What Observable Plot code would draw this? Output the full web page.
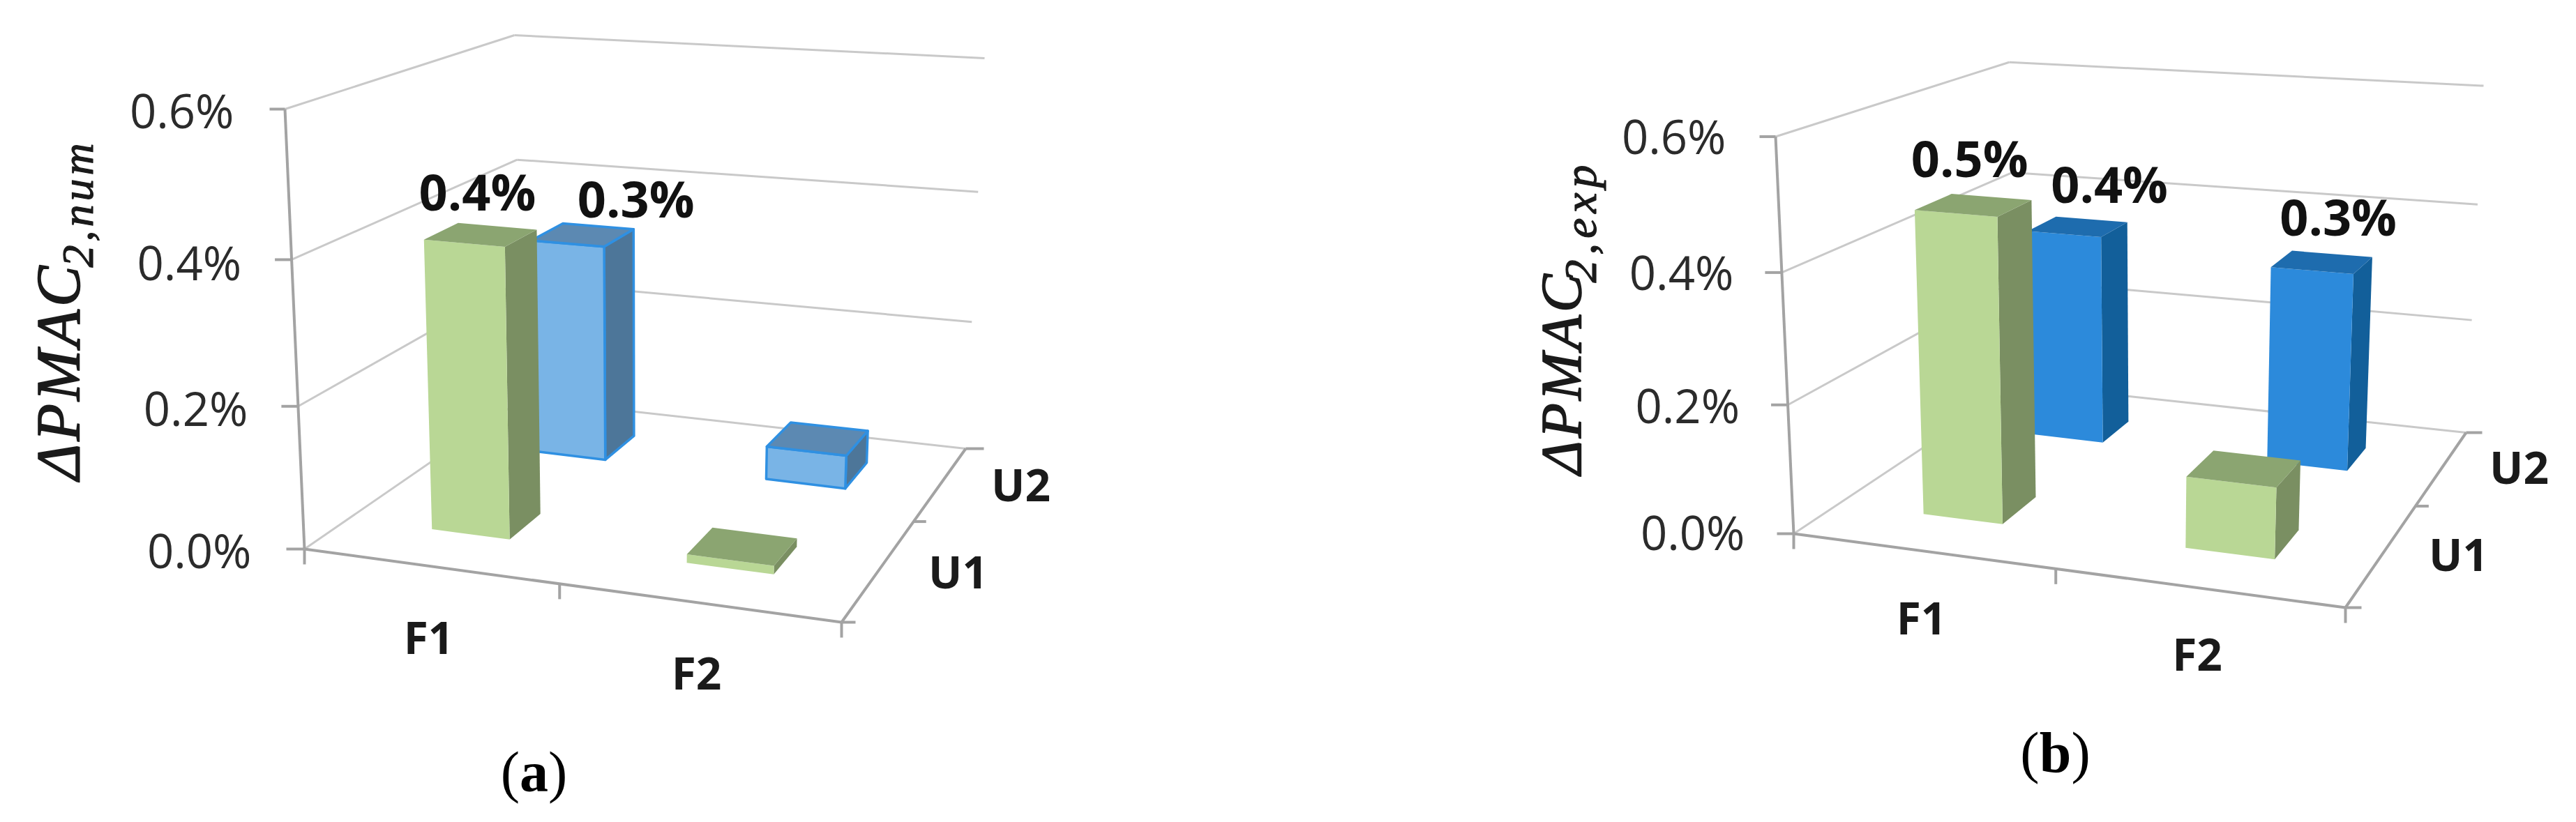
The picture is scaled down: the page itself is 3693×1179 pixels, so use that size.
<!DOCTYPE html>
<html>
<head>
<meta charset="utf-8">
<style>
  html, body { margin: 0; padding: 0; background: #fff; }
  svg { display: block; }
  .axmain { letter-spacing: 4px; }
  .axsub { letter-spacing: 5px; }
  .axsub2 { letter-spacing: 7px; }
</style>
<script src="https://cdn.jsdelivr.net/npm/d3@7"></script>
<script src="https://cdn.jsdelivr.net/npm/@observablehq/plot@0.6"></script>
</head>
<body>
<div id="chart"></div>
<script>
// ---- data ----
const factors = ["F1", "F2"];
const modes = ["U1", "U2"];
const yTicks = [0, 0.2, 0.4, 0.6];
const tickLabels = ["0.0%", "0.2%", "0.4%", "0.6%"];
// value (%) for [F1, F2]
const numU1 = [0.41, 0.012];
const numU2 = [0.33, 0.05];
const expU1 = [0.476, 0.11];
const expU2 = [0.357, 0.33];
const numLabels = ["0.4%", "0.3%"];
const expLabels = ["0.5%", "0.4%", "0.3%"];

// ---- colours ----
const green = {front: "#b9d795", top: "#8ba571", side: "#7a8f62", stroke: "none"};
const paleBlue = {front: "#79b4e6", top: "#5c89b2", side: "#4d7699", stroke: "#2f90e2"};
const deepBlue = {front: "#2c8adb", top: "#1e6cae", side: "#125f9a", stroke: "none"};

// ---- camera of each panel: floor and top corners (front-left, front-right, back-right, back-left) ----
const panels = [
  {
    floor: [[436, 787], [1206, 892], [1384, 643], [748, 572]],
    top: [[408, 156], [1227, 215], [1411, 83], [737, 50]],
    uRange: [[0.16, 0.31], [0.652, 0.82]],
    vRange: [[0.205, 0.368], [0.712, 0.864]],
    u1: numU1, u2: numU2, color1: green, color2: paleBlue,
    labels: [[0, 0, numLabels[0], -5, -58], [0, 1, numLabels[1], 76, -48]],
    tickDx: [-76, -72, -72, -73], tickDy: [6, 7, 8, 6],
    catText: [[614, 917], [998, 968]], serText: [[1373, 823], [1463, 698]],
    tag: "a", tagPos: [765, 1108], tagHalf: 20.5,
    sub: "2,num", title: [[112, 688], [132, 383]],
    mainSize: 88, subSize: 64, subClass: "axsub",
    tickLen: {left: [26, 24, 24, 22], down: 22, right: [20, 18, 26]}
  },
  {
    floor: [[2571, 765], [3362, 871], [3535, 620], [2893, 551]],
    top: [[2545, 195.5], [3383, 258], [3560, 122.6], [2880, 88.7]],
    uRange: [[0.158, 0.307], [0.652, 0.82]],
    vRange: [[0.205, 0.377], [0.725, 0.858]],
    u1: expU1, u2: expU2, color1: green, color2: deepBlue,
    labels: [[0, 0, expLabels[0], -6, -63], [0, 1, expLabels[1], 45, -57], [1, 1, expLabels[2], 23, -61]],
    tickDx: [-70, -69, -69, -71], tickDy: [2, 5, 4, 4],
    catText: [[2754, 889], [3149.5, 941]], serText: [[3524, 798.5], [3611, 673]],
    tag: "b", tagPos: [2946, 1080], tagHalf: 23,
    sub: "2,exp", title: [[2265, 680], [2287, 405]],
    mainSize: 82, subSize: 66, subClass: "axsub2",
    tickLen: {left: [24, 24, 24, 23], down: 22, right: [23, 19, 23]}
  }
];

const yMax = 0.6;
const uTick = 0.475;
const vTick = 0.58;
const curve = -0.04;

function bilinear(q, u, v) {
  const [a, b, c, d] = q;
  const f = (i) => a[i] * (1 - u) * (1 - v) + b[i] * u * (1 - v) + c[i] * u * v + d[i] * (1 - u) * v;
  return [f(0), f(1)];
}
function project(p, u, v, value) {
  const t = value / yMax;
  const s = t + curve * t * (1 - t);
  const f = bilinear(p.floor, u, v), g = bilinear(p.top, u, v);
  return {x: f[0] + (g[0] - f[0]) * s, y: f[1] + (g[1] - f[1]) * s};
}

const gridC = "#c9c9c9", axisC = "#a3a3a3";
const marks = [];
const seg = (a, b, stroke, w) => marks.push(Plot.link([{a, b}], {
  x1: (d) => d.a.x, y1: (d) => d.a.y, x2: (d) => d.b.x, y2: (d) => d.b.y, stroke, strokeWidth: w
}));
const txt = (t, x, y, o) => marks.push(Plot.text([t], {x: () => x, y: () => y, text: (d) => d, lineAnchor: "middle", ...o}));

function face(pts, fill, stroke) {
  marks.push(Plot.line(pts, {
    x: "x", y: "y", fill, stroke, strokeWidth: stroke === "none" ? 0 : 3.5,
    curve: "linear-closed", strokeLinejoin: "round"
  }));
}

function bar(p, fi, si, value, col) {
  const [u0, u1] = p.uRange[fi], [v0, v1] = p.vRange[si];
  const P = (u, v, h) => project(p, u, v, h);
  face([P(u1, v0, 0), P(u1, v1, 0), P(u1, v1, value), P(u1, v0, value)], col.side, col.stroke);
  face([P(u0, v0, 0), P(u1, v0, 0), P(u1, v0, value), P(u0, v0, value)], col.front, col.stroke);
  face([P(u0, v0, value), P(u1, v0, value), P(u1, v1, value), P(u0, v1, value)], col.top, col.stroke);
}

for (const p of panels) {
  // gridlines on the two back walls and floor
  yTicks.forEach((t) => {
    const a = project(p, 0, 0, t), d = project(p, 0, 1, t), c = project(p, 1, 1, t);
    seg(a, d, gridC, 3);
    seg(d, c, gridC, 3);
  });
  // axes
  const A = project(p, 0, 0, 0), B = project(p, 1, 0, 0), C = project(p, 1, 1, 0);
  seg(project(p, 0, 0, yMax), A, axisC, 4);
  seg(A, B, axisC, 4);
  seg(B, C, axisC, 4);
  // ticks on value axis with labels
  yTicks.forEach((t, i) => {
    const q = project(p, 0, 0, t);
    seg({x: q.x - p.tickLen.left[i], y: q.y}, q, axisC, 4);
    txt(tickLabels[i], q.x + p.tickDx[i], q.y + p.tickDy[i], {
      textAnchor: "end", fontFamily: "Open Sans", fontSize: 67, fill: "#2b2b2b"
    });
  });
  // ticks on floor axes
  [0, uTick, 1].forEach((u) => {
    const q = project(p, u, 0, 0);
    seg(q, {x: q.x, y: q.y + p.tickLen.down}, axisC, 4);
  });
  [0, vTick, 1].forEach((v, i) => {
    const q = project(p, 1, v, 0);
    seg(q, {x: q.x + p.tickLen.right[i], y: q.y}, axisC, 4);
  });
  // bars, back to front
  bar(p, 0, 1, p.u2[0], p.color2);
  bar(p, 1, 1, p.u2[1], p.color2);
  bar(p, 0, 0, p.u1[0], p.color1);
  bar(p, 1, 0, p.u1[1], p.color1);
  // value labels
  for (const [fi, si, label, dx, dy] of p.labels) {
    const [u0, u1] = p.uRange[fi], [v0, v1] = p.vRange[si];
    const value = (si ? p.u2 : p.u1)[fi];
    const q = project(p, (u0 + u1) / 2, (v0 + v1) / 2, value);
    txt(label, q.x + dx, q.y + dy, {
      textAnchor: "middle", fontFamily: "Open Sans", fontWeight: 700, fontSize: 72, fill: "#111"
    });
  }
  // category and series names
  factors.forEach((f, i) => txt(f, p.catText[i][0], p.catText[i][1], {
    textAnchor: "middle", fontFamily: "Open Sans", fontWeight: 700, fontSize: 64, fill: "#1a1a1a"
  }));
  modes.forEach((s, i) => txt(s, p.serText[i][0], p.serText[i][1], {
    textAnchor: "middle", fontFamily: "Open Sans", fontWeight: 700, fontSize: 64, fill: "#1a1a1a"
  }));
  // axis title (rotated, with subscript)
  txt("\u0394PMAC", p.title[0][0], p.title[0][1], {
    textAnchor: "start", lineAnchor: "bottom", rotate: -90, fontFamily: "Liberation Serif",
    fontStyle: "italic", fontSize: p.mainSize, fill: "#1a1a1a", stroke: "#1a1a1a", strokeWidth: 1.6, className: "axmain"
  });
  txt(p.sub, p.title[1][0], p.title[1][1], {
    textAnchor: "start", lineAnchor: "bottom", rotate: -90, fontFamily: "Liberation Serif",
    fontStyle: "italic", fontSize: p.subSize, fill: "#1a1a1a", stroke: "#1a1a1a", strokeWidth: 1.2, className: p.subClass
  });
  // panel tag
  txt(p.tag, p.tagPos[0], p.tagPos[1], {
    textAnchor: "middle", fontFamily: "Liberation Serif", fontWeight: 700, fontSize: 82, fill: "#000"
  });
  txt("(", p.tagPos[0] - p.tagHalf, p.tagPos[1], {
    textAnchor: "end", fontFamily: "Liberation Serif", fontSize: 82, fill: "#000"
  });
  txt(")", p.tagPos[0] + p.tagHalf, p.tagPos[1], {
    textAnchor: "start", fontFamily: "Liberation Serif", fontSize: 82, fill: "#000"
  });
}

const chart = Plot.plot({
  width: 3693, height: 1179,
  marginTop: 0, marginRight: 0, marginBottom: 0, marginLeft: 0,
  x: {type: "linear", domain: [0, 3693], range: [0, 3693], axis: null},
  y: {type: "linear", domain: [0, 1179], range: [0, 1179], axis: null},
  style: {background: "#fff"},
  marks
});
document.getElementById("chart").appendChild(chart);
</script>
</body>
</html>
